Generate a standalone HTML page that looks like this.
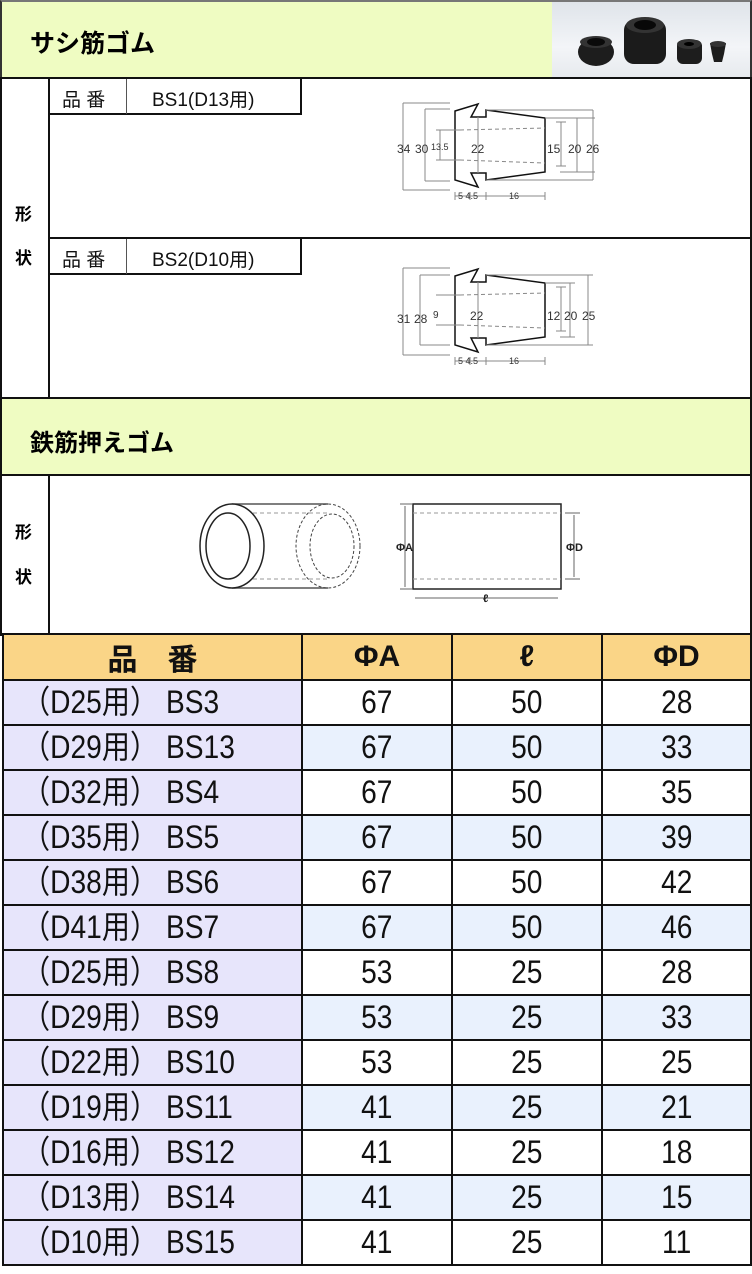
<!DOCTYPE html>
<html><head><meta charset="utf-8"><style>
*{margin:0;padding:0;box-sizing:border-box}
body{width:752px;height:1274px;background:#fff;position:relative;overflow:hidden;font-family:"Liberation Sans","Noto Sans CJK JP",sans-serif}
.a{position:absolute}
.h{background:#effcc2;font-weight:bold;font-size:22px;color:#111}
.lab{font-size:19px;color:#111}
.bd{font-weight:bold;font-size:17px}
table{position:absolute;left:2px;top:633px;border-collapse:collapse}
td{border:2px solid #111;height:45px;text-align:center;font-size:32px;color:#111;padding:0;line-height:41px}
td span{display:inline-block;transform:scaleX(0.88)}
td.f{background:#e7e5fb;text-align:left;padding-left:18px;width:299px}
td.f span{transform-origin:left center}
tr.b td{background:#e9f1fd}
tr.b td.f{background:#e7e5fb}
th{background:#fad587;border:2px solid #111;height:45px;font-size:30px;font-weight:bold;color:#111}
</style></head><body>
<div class="a h" style="left:0;top:0;width:752px;height:79px;border:2px solid #333;border-top-color:#777"></div>
<div class="a" style="left:552px;top:2px;width:198px;height:75px;background:linear-gradient(#dfe4ea,#f3f5f8 60%,#e7eaee)"></div>
<div class="a bd" style="left:30px;top:24px;font-size:25px">サシ筋ゴム</div>
<svg class="a" style="left:552px;top:2px" width="198" height="75">
<ellipse cx="44" cy="50" rx="18" ry="14" fill="#1d1d1d"/><ellipse cx="44" cy="40" rx="16" ry="6" fill="#333"/><ellipse cx="44" cy="40" rx="9" ry="4" fill="#0a0a0a"/>
<rect x="72" y="18" width="42" height="44" rx="10" fill="#1b1b1b"/><ellipse cx="93" cy="23" rx="19" ry="8" fill="#333"/><ellipse cx="93" cy="23" rx="11" ry="5" fill="#080808"/>
<rect x="125" y="38" width="25" height="24" rx="6" fill="#1d1d1d"/><ellipse cx="137" cy="42" rx="12" ry="5" fill="#333"/><ellipse cx="137" cy="42" rx="5" ry="2" fill="#000"/>
<path d="M158 41 L174 41 L172 52 L170 60 L162 60 L160 52 Z" fill="#1d1d1d"/><ellipse cx="166" cy="42" rx="8" ry="3" fill="#333"/>
</svg>
<div class="a" style="left:0;top:77px;width:752px;height:322px;border:2px solid #111"></div>
<div class="a" style="left:48px;top:77px;width:2px;height:322px;background:#111"></div>
<div class="a" style="left:48px;top:237px;width:704px;height:2px;background:#111"></div>
<div class="a bd" style="left:15px;top:200px">形</div>
<div class="a bd" style="left:15px;top:244px">状</div>
<div class="a" style="left:48px;top:77px;width:254px;height:38px;border:2px solid #111;border-top:none"></div>
<div class="a" style="left:126px;top:79px;width:1px;height:35px;background:#555"></div>
<div class="a lab" style="left:62px;top:85px">品 番</div>
<div class="a lab" style="left:152px;top:85px">BS1(D13用)</div>
<div class="a" style="left:48px;top:237px;width:254px;height:38px;border:2px solid #111"></div>
<div class="a" style="left:126px;top:239px;width:1px;height:35px;background:#555"></div>
<div class="a lab" style="left:62px;top:245px">品 番</div>
<div class="a lab" style="left:152px;top:245px">BS2(D10用)</div>
<svg class="a" style="left:0;top:0" width="752" height="400" font-family="Liberation Sans" font-size="11" fill="#333">
<g stroke="#888" stroke-width="1" fill="none">
<path d="M455 111 L478 104 L471 117 L486 117 L486 110 L545 118 L545 172 L486 180 L486 173 L471 173 L478 187 L455 180 Z" stroke="#111" stroke-width="1.5"/>
<path d="M403 103 L450 103 M403 190 L450 190 M403 103 L403 190 M425 109 L450 109 M425 181 L450 181 M425 109 L425 181 M440 130 L440 160 M436 130 L460 130 M436 160 L460 160 M561 122 L561 166 M556 122 L566 122 M556 166 L566 166 M545 118 L595 118 M560 172 L595 172 M577 118 L577 172 M593 110 L593 180 M486 110 L593 110 M486 180 L593 180"/>
<path d="M460 130 L545 128 M460 160 L545 163" stroke-dasharray="4 3"/>
<path d="M478 117 L478 173"/>
<path d="M455 192 L455 200 M470 192 L470 200 M486 192 L486 200 M545 192 L545 200 M455 196 L545 196"/>
</g>
<g transform="translate(0,165)" stroke="#888" stroke-width="1" fill="none">
<path d="M455 111 L478 104 L471 117 L486 117 L486 110 L545 118 L545 172 L486 180 L486 173 L471 173 L478 187 L455 180 Z" stroke="#111" stroke-width="1.5"/>
<path d="M403 103 L450 103 M403 190 L450 190 M403 103 L403 190 M420 110 L450 110 M420 180 L450 180 M420 110 L420 180 M436 130 L460 130 M436 160 L460 160 M561 122 L561 166 M556 122 L566 122 M556 166 L566 166 M545 118 L575 118 M560 172 L575 172 M570 118 L570 172 M588 110 L588 180 M486 110 L593 110 M486 180 L593 180"/>
<path d="M460 130 L545 128 M460 160 L545 163" stroke-dasharray="4 3"/>
<path d="M478 117 L478 173"/>
<path d="M455 192 L455 200 M470 192 L470 200 M486 192 L486 200 M545 192 L545 200 M455 196 L545 196"/>
</g>
<g font-size="12">
<text x="397" y="153">34</text><text x="415" y="153">30</text><text x="431" y="150" font-size="9">13.5</text><text x="471" y="153">22</text><text x="547" y="153">15</text><text x="568" y="153">20</text><text x="586" y="153">26</text>
<text x="458" y="199" font-size="9">5 4.5</text><text x="509" y="199" font-size="9">16</text>
<text x="397" y="323">31</text><text x="414" y="323">28</text><text x="433" y="318" font-size="10">9</text><text x="470" y="320">22</text><text x="547" y="320">12</text><text x="564" y="320">20</text><text x="582" y="320">25</text>
<text x="458" y="364" font-size="9">5 4.5</text><text x="509" y="364" font-size="9">16</text>
</g>
</svg>
<div class="a h" style="left:0;top:397px;width:752px;height:79px;border:2px solid #111"></div>
<div class="a bd" style="left:30px;top:423px;font-size:24px">鉄筋押えゴム</div>
<div class="a" style="left:0;top:474px;width:752px;height:162px;border:2px solid #111"></div>
<div class="a" style="left:48px;top:474px;width:2px;height:162px;background:#111"></div>
<div class="a bd" style="left:15px;top:518px">形</div>
<div class="a bd" style="left:15px;top:563px">状</div>
<svg class="a" style="left:0;top:474px" width="752" height="160" fill="none" stroke="#222">
<path d="M232 30 L328 30 M232 114 L328 114" stroke="#555" stroke-width="1.5"/>
<ellipse cx="328" cy="72" rx="32" ry="42" stroke="#444" stroke-dasharray="3 2"/>
<ellipse cx="332" cy="72" rx="22" ry="32" stroke="#444" stroke-dasharray="3 2"/>
<path d="M232 39 L328 39 M232 105 L328 105" stroke="#999" stroke-dasharray="4 3"/>
<ellipse cx="232" cy="72" rx="32" ry="42" fill="#fff" stroke-width="1.5"/>
<ellipse cx="228" cy="72" rx="22" ry="33" stroke-width="1.5"/>
<rect x="413" y="30" width="148" height="85" stroke-width="1.5"/>
<path d="M413 39 L561 39 M413 105 L561 105" stroke="#999" stroke-dasharray="4 3"/>
<path d="M400 30 L412 30 M400 115 L412 115 M405 32 L405 113 M565 39 L580 39 M565 105 L580 105 M574 41 L574 103 M415 124 L558 124" stroke="#666"/>
<text x="396" y="77" font-size="11" font-weight="bold" fill="#222" stroke="none" font-family="Liberation Sans">ΦA</text>
<text x="566" y="77" font-size="11" font-weight="bold" fill="#222" stroke="none" font-family="Liberation Sans">ΦD</text>
<text x="483" y="128" font-size="11" font-weight="bold" fill="#222" stroke="none" font-family="Liberation Sans">ℓ</text>
</svg>
<table>
<tr><th style="width:299px">品　番</th><th style="width:150px">ΦA</th><th style="width:150px">ℓ</th><th style="width:149px">ΦD</th></tr>
<tr><td class="f"><span>（D25用） BS3</span></td><td><span>67</span></td><td><span>50</span></td><td><span>28</span></td></tr>
<tr class="b"><td class="f"><span>（D29用） BS13</span></td><td><span>67</span></td><td><span>50</span></td><td><span>33</span></td></tr>
<tr><td class="f"><span>（D32用） BS4</span></td><td><span>67</span></td><td><span>50</span></td><td><span>35</span></td></tr>
<tr class="b"><td class="f"><span>（D35用） BS5</span></td><td><span>67</span></td><td><span>50</span></td><td><span>39</span></td></tr>
<tr><td class="f"><span>（D38用） BS6</span></td><td><span>67</span></td><td><span>50</span></td><td><span>42</span></td></tr>
<tr class="b"><td class="f"><span>（D41用） BS7</span></td><td><span>67</span></td><td><span>50</span></td><td><span>46</span></td></tr>
<tr><td class="f"><span>（D25用） BS8</span></td><td><span>53</span></td><td><span>25</span></td><td><span>28</span></td></tr>
<tr class="b"><td class="f"><span>（D29用） BS9</span></td><td><span>53</span></td><td><span>25</span></td><td><span>33</span></td></tr>
<tr><td class="f"><span>（D22用） BS10</span></td><td><span>53</span></td><td><span>25</span></td><td><span>25</span></td></tr>
<tr class="b"><td class="f"><span>（D19用） BS11</span></td><td><span>41</span></td><td><span>25</span></td><td><span>21</span></td></tr>
<tr><td class="f"><span>（D16用） BS12</span></td><td><span>41</span></td><td><span>25</span></td><td><span>18</span></td></tr>
<tr class="b"><td class="f"><span>（D13用） BS14</span></td><td><span>41</span></td><td><span>25</span></td><td><span>15</span></td></tr>
<tr><td class="f"><span>（D10用） BS15</span></td><td><span>41</span></td><td><span>25</span></td><td><span>11</span></td></tr>
</table>
</body></html>
